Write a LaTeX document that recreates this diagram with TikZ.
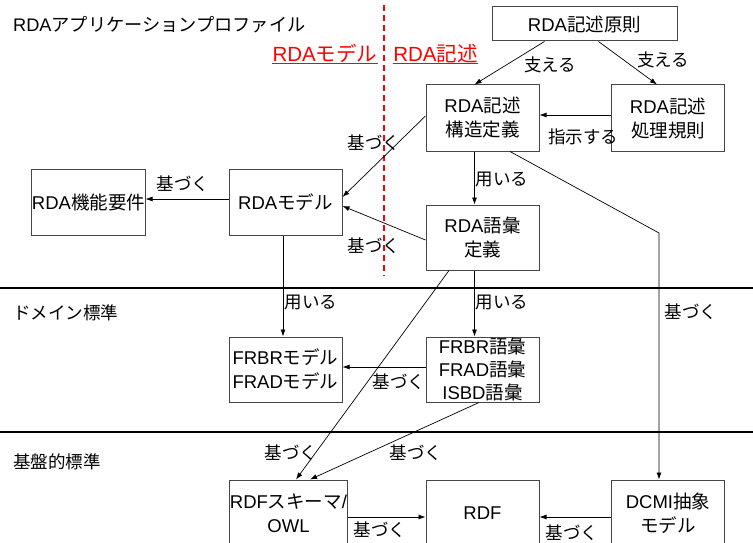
\documentclass[tikz,border=0pt]{standalone}
\usepackage{fontspec}
\setmainfont{Noto Sans CJK JP}
\newfontfamily\latinfont{Liberation Sans}
\newcommand{\lat}[1]{{\latinfont #1}}
\usetikzlibrary{arrows.meta}
\definecolor{boxline}{RGB}{70,70,70}
\tikzset{
  box/.style={draw=boxline, line width=1pt, minimum width=113pt, minimum height=66pt, inner sep=0pt, align=center, font=\fontsize{18.5}{24}\selectfont},
  conn/.style={-{Latex[length=7pt,width=5pt]}, line width=0.7pt},
  lbl/.style={inner sep=0pt},
  title/.style={inner sep=0pt, text=red, font=\fontsize{20.5}{24}\selectfont},
}

\begin{document}
\begin{tikzpicture}[x=1pt,y=-1pt,font=\fontsize{17.5}{23}\selectfont]
  \useasboundingbox (0,0) rectangle (753,543);
  \clip (0,0) rectangle (753,543);

  % Layers
  \draw[line width=2.5pt] (0,288) -- (753,288);
  \draw[line width=2.5pt] (0,432) -- (753,432);
  \draw[red, line width=1.2pt, dash pattern=on 6pt off 4pt] (384,5) -- (384,276);
  \node[lbl, anchor=west, font=\fontsize{18.2}{23}\selectfont] (profile) at (13,25) {\lat{RDA}アプリケーションプロファイル};
  \node[lbl, anchor=west] (domain) at (13,313) {ドメイン標準};
  \node[lbl, anchor=west] (base) at (13,462) {基盤的標準};
  \node[title, anchor=base] (modeltitle) at (325,61.5) {\lat{RDA}モデル};
  \node[title, anchor=base] (desctitle) at (435.5,61.5) {\lat{RDA}記述};
  \draw[red, line width=1.3pt] ([yshift=-2pt]modeltitle.base west) -- ([yshift=-2pt]modeltitle.base east);
  \draw[red, line width=1.3pt] ([yshift=-2pt]desctitle.base west) -- ([yshift=-2pt]desctitle.base east);

  % Boxes
  \node[box, minimum width=185pt, minimum height=34pt] (principle) at (584.5,24) {\lat{RDA}記述原則};
  \node[box] (structure) at (482.5,118) {\lat{RDA}記述\\構造定義};
  \node[box] (rules) at (668,118) {\lat{RDA}記述\\処理規則};
  \node[box, minimum height=65pt] (vocab) at (482.5,237.5) {\lat{RDA}語彙\\定義};
  \node[box] (model) at (285.5,202) {\lat{RDA}モデル};
  \node[box] (require) at (88.5,202) {\lat{RDA}機能要件};
  \node[box, minimum height=65pt] (frbrmodel) at (285.5,369.5) {\lat{FRBR}モデル\\\lat{FRAD}モデル};
  \node[box, minimum height=65pt, font=\fontsize{18.5}{23}\selectfont] (frbrvocab) at (482.5,369.5) {\lat{FRBR}語彙\\\lat{FRAD}語彙\\\lat{ISBD}語彙};
  \node[box] (rdfs) at (288.5,513) {\lat{RDF}スキーマ\lat{/}\\\lat{OWL}};
  \node[box] (rdf) at (482.5,513) {\lat{RDF}};
  \node[box] (dcmi) at (668,513) {\lat{DCMI}抽象\\モデル};

  % Connectors
  \coordinate (dcmibend) at (659,233);
  \draw[conn] ([xshift=-40pt]principle.south) -- ([xshift=-8pt]structure.north);
  \draw[conn] ([xshift=14pt]principle.south) -- ([xshift=-11pt]rules.north);
  \draw[conn] ([yshift=3pt]rules.west) -- ([yshift=3pt]structure.east);
  \draw[conn] ([xshift=-8pt]structure.south) -- ([xshift=-8pt]vocab.north);
  \draw[conn] ([yshift=2pt]structure.west) -- ([yshift=5pt]model.east);
  \draw[conn] ([yshift=-2.5pt]vocab.west) -- ([yshift=-4pt]model.east);
  \draw[conn] ([yshift=3pt]model.west) -- ([yshift=3pt]require.east);
  \draw[conn] ([xshift=-2.5pt]model.south) -- ([xshift=-2.5pt]frbrmodel.north);
  \draw[conn] ([xshift=-8pt]vocab.south) -- ([xshift=-8pt]frbrvocab.north);
  \draw[conn] ([xshift=27.5pt]structure.south) -- (dcmibend) -- ([xshift=-9pt]dcmi.north);
  \draw[conn] ([yshift=2.5pt]frbrvocab.west) -- ([yshift=2.5pt]frbrmodel.east);
  \draw[conn] ([xshift=-33.5pt]vocab.south) -- ([xshift=7.5pt]rdfs.north);
  \draw[conn] ([xshift=-3.5pt]frbrvocab.south) -- ([xshift=21.5pt]rdfs.north);
  \draw[conn] ([yshift=-4pt]rdfs.east) -- ([yshift=-4pt]rdf.west);
  \draw[conn] ([yshift=-4pt]dcmi.west) -- ([yshift=-4pt]rdf.east);

  % Labels
  \node[lbl] (supportl) at (550,65) {支える};
  \node[lbl] (supportr) at (663,60) {支える};
  \node[lbl] (instruct) at (583,137) {指示する};
  \node[lbl] (usevocab) at (502,180) {用いる};
  \node[lbl] (basemodela) at (374,143) {基づく};
  \node[lbl] (basemodelb) at (374,246) {基づく};
  \node[lbl] (baserequire) at (183,184) {基づく};
  \node[lbl] (usefrbrm) at (311,303) {用いる};
  \node[lbl] (usefrbrv) at (502,303) {用いる};
  \node[lbl] (basedcmi) at (691,312) {基づく};
  \node[lbl] (basefrbrm) at (399,382) {基づく};
  \node[lbl] (baserdfsa) at (291,453) {基づく};
  \node[lbl] (baserdfsb) at (416,453) {基づく};
  \node[lbl] (baserdfa) at (380,530) {基づく};
  \node[lbl] (baserdfb) at (572,533) {基づく};
\end{tikzpicture}
\end{document}
